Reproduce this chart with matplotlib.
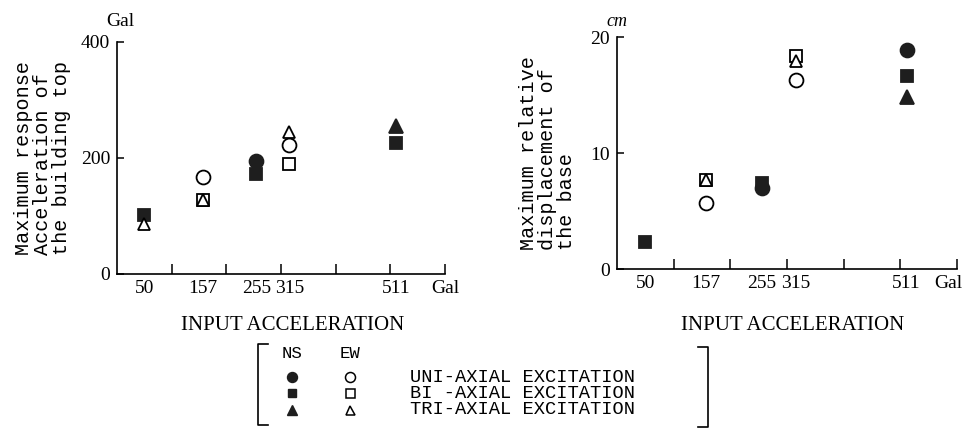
import numpy as np
import matplotlib
matplotlib.use("Agg")
import matplotlib.pyplot as plt
from matplotlib.lines import Line2D

# ---------------- data ----------------
input_acc = [50, 157, 255, 315, 511]          # Gal
input_labels = ["50", "157", "255", "315", "511"]
nan = np.nan

# Maximum response acceleration of the building top (Gal)
acc_ns_uni = [nan, nan, 195, nan, nan]
acc_ns_bi = [101, nan, 172, nan, 226]
acc_ns_tri = [nan, nan, nan, nan, 255]
acc_ew_uni = [nan, 168, nan, 222, nan]
acc_ew_bi = [nan, 128, nan, 189, nan]
acc_ew_tri = [87, 128, nan, 245, nan]

# Maximum relative displacement of the base (cm)
dis_ns_uni = [nan, nan, 7.0, nan, 18.9]
dis_ns_bi = [2.3, nan, 7.4, nan, 16.6]
dis_ns_tri = [nan, nan, nan, nan, 14.8]
dis_ew_uni = [nan, 5.7, nan, 16.3, nan]
dis_ew_bi = [nan, 7.7, nan, 18.4, nan]
dis_ew_tri = [nan, 7.7, nan, 17.9, nan]

legend_rows = ["UNI-AXIAL EXCITATION", "BI -AXIAL EXCITATION", "TRI-AXIAL EXCITATION"]

# ---------------- style ----------------
W, H = 971, 428
fig = plt.figure(figsize=(W / 100, H / 100), dpi=100)
DARK = "#1e1e1e"
SERIF = ["Liberation Serif", "DejaVu Serif"]
MONO = ["Liberation Mono", "DejaVu Sans Mono"]
TICK_FS = 14


def fx(x):
    return x / W


def fy(y):
    return 1 - y / H


styles = [
    ("o", DARK, DARK, 10),
    ("s", DARK, DARK, 8.5),
    ("^", DARK, DARK, 9.5),
    ("o", "white", "black", 10),
    ("s", "white", "black", 9),
    ("^", "white", "black", 9),
]


def make_axis(rect, series, ymax, ylabel, ylabel_x, gal_x, xlabel_x, xlabel_y):
    ax = fig.add_axes(rect)
    ax.set_xlim(0, 600)
    ax.set_ylim(0, ymax)
    for s in ("top", "right"):
        ax.spines[s].set_visible(False)
    for s in ("left", "bottom"):
        ax.spines[s].set_linewidth(1.2)
    ax.set_xticks([100, 200, 300, 400, 500, 600])
    ax.set_xticklabels([])
    ax.tick_params(axis="x", which="major", direction="in", length=7, width=1.1)
    ax.set_xticks(input_acc, input_labels, minor=True)
    ax.tick_params(axis="x", which="minor", length=0, pad=4, labelsize=TICK_FS)
    for t in ax.get_xticklabels(minor=True):
        t.set_family(SERIF)
    ax.set_yticks([0, ymax / 2, ymax])
    ax.set_yticklabels([f"{v:g}" for v in (0, ymax / 2, ymax)], family=SERIF, fontsize=TICK_FS)
    ax.tick_params(axis="y", direction="in", length=5, width=1.1, pad=5)

    for vals, (m, fc, ec, ms) in zip(series, styles):
        ax.plot(input_acc, vals, linestyle="none", marker=m, markersize=ms,
                markerfacecolor=fc, markeredgecolor=ec, markeredgewidth=1.3,
                clip_on=False)

    ax.text(gal_x, -ymax * 0.028, "Gal", transform=ax.transData, ha="center", va="top",
            fontsize=TICK_FS, family=SERIF)
    ax.text(ylabel_x, 0.5, ylabel, transform=ax.transAxes, rotation=90,
            ha="center", va="center", multialignment="left",
            fontsize=14.5, family=MONO, linespacing=1.0)
    ax.text(xlabel_x, xlabel_y, "INPUT ACCELERATION", transform=ax.transAxes,
            ha="center", va="center", fontsize=15, family=SERIF)
    return ax


ax1 = make_axis([fx(117), fy(274), 328 / W, 232 / H],
                [acc_ns_uni, acc_ns_bi, acc_ns_tri, acc_ew_uni, acc_ew_bi, acc_ew_tri],
                400, "Maximum response\nAcceleration of\nthe building top",
                -0.228, 600, 0.535, -0.222)
fig.text(fx(120), fy(22), "Gal", ha="center", va="center", fontsize=TICK_FS, family=SERIF)

ax2 = make_axis([fx(617), fy(269), 340 / W, 232 / H],
                [dis_ns_uni, dis_ns_bi, dis_ns_tri, dis_ew_uni, dis_ew_bi, dis_ew_tri],
                20, "Maximum relative\ndisplacement of\nthe base",
                -0.205, 584, 0.518, -0.245)
fig.text(fx(617), fy(22), "cm", ha="center", va="center", fontsize=13,
         family=SERIF, style="italic")

# ---------------- legend ----------------
fig.text(fx(292), fy(353), "NS", ha="center", va="center", fontsize=12.5, family=MONO)
fig.text(fx(350), fy(353), "EW", ha="center", va="center", fontsize=12.5, family=MONO)
row_y = [377, 393, 410]
for i, txt in enumerate(legend_rows):
    m, fc, ec, ms = styles[i]
    fig.add_artist(Line2D([fx(292)], [fy(row_y[i])], marker=m, markersize=ms * 0.72,
                          markerfacecolor=fc, markeredgecolor=ec, linestyle="none"))
    m, fc, ec, ms = styles[i + 3]
    fig.add_artist(Line2D([fx(350)], [fy(row_y[i])], marker=m, markersize=ms * 0.72,
                          markerfacecolor=fc, markeredgecolor=ec, markeredgewidth=1.1,
                          linestyle="none"))
    fig.text(fx(410), fy(row_y[i]), txt, ha="left", va="center", fontsize=13.5, family=MONO)

# brackets
lw = 1.2
fig.add_artist(Line2D([fx(268), fx(258), fx(258), fx(268)],
                      [fy(344), fy(344), fy(425), fy(425)], color="black", lw=lw))
fig.add_artist(Line2D([fx(698), fx(708), fx(708), fx(698)],
                      [fy(347), fy(347), fy(427), fy(427)], color="black", lw=lw))

fig.savefig("out.png", dpi=100)
